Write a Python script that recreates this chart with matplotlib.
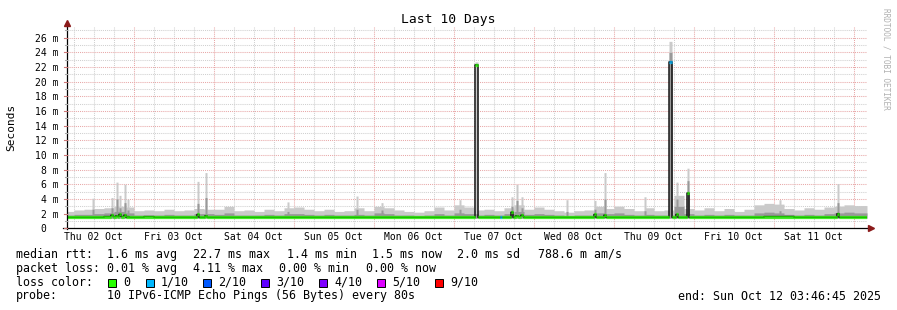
import numpy as np
import matplotlib
matplotlib.use("Agg")
import matplotlib.pyplot as plt
from matplotlib.patches import Rectangle

W, H = 897, 310
MONO = "DejaVu Sans Mono"

# base smoke, 3-hour bins starting 02 Oct 03:00 (hours since 02 Oct 00:00)
bin_start = 3.0
bin_hours = 3.0
smoke_top = [2.3, 2.5, 2.6, 2.7, 2.8, 3.0, 2.9, 2.4, 2.5, 2.4,
             2.6, 2.4, 2.5, 2.7, 2.6, 2.6, 3.0, 2.4, 2.5, 2.3,
             2.6, 2.4, 2.8, 2.9, 2.6, 2.4, 2.6, 2.3, 2.4, 2.8,
             2.4, 3.0, 2.8, 2.5, 2.3, 2.2, 2.4, 2.9, 2.5, 3.2,
             2.9, 2.5, 2.6, 2.4, 2.8, 3.2, 2.6, 2.9, 2.6, 2.4,
             2.2, 2.4, 2.5, 3.0, 2.7, 3.0, 2.7, 2.4, 2.8, 2.4,
             2.5, 4.5, 2.7, 2.5, 2.8, 2.4, 2.7, 2.3, 2.6, 3.2,
             3.4, 3.3, 2.7, 2.5, 2.8, 2.6, 2.9, 3.0, 3.2, 3.1, 3.1]
smoke_dark = [1.8, 1.9, 1.9, 2.0, 2.1, 2.3, 2.1, 1.8, 1.8, 1.8,
              1.9, 1.8, 1.8, 2.0, 2.0, 1.9, 2.1, 1.8, 1.8, 1.8,
              1.9, 1.8, 2.0, 2.0, 1.9, 1.8, 1.9, 1.8, 1.8, 1.9,
              1.8, 2.1, 2.0, 1.8, 1.8, 1.7, 1.8, 2.0, 1.8, 2.1,
              2.0, 1.8, 1.9, 1.8, 2.0, 2.3, 1.9, 2.0, 1.9, 1.8,
              1.7, 1.8, 1.8, 2.1, 2.0, 2.1, 1.9, 1.8, 1.9, 1.8,
              1.8, 3.0, 2.0, 1.8, 1.9, 1.8, 1.9, 1.8, 1.8, 2.1,
              2.2, 2.1, 1.9, 1.8, 1.9, 1.8, 2.0, 2.1, 2.2, 2.1, 2.1]
median_rtt = [1.5, 1.5, 1.5, 1.5, 1.6, 1.6, 1.5, 1.5, 1.6, 1.5,
              1.5, 1.5, 1.5, 1.5, 1.5, 1.5, 1.5, 1.5, 1.5, 1.5,
              1.5, 1.5, 1.5, 1.5, 1.5, 1.5, 1.5, 1.5, 1.5, 1.5,
              1.5, 1.5, 1.5, 1.5, 1.5, 1.5, 1.5, 1.5, 1.5, 1.5,
              1.5, 1.5, 1.5, 1.5, 1.5, 1.6, 1.5, 1.5, 1.5, 1.5,
              1.5, 1.5, 1.5, 1.5, 1.5, 1.5, 1.5, 1.5, 1.5, 1.5,
              1.5, 1.5, 1.5, 1.5, 1.5, 1.5, 1.5, 1.5, 1.5, 1.5,
              1.6, 1.6, 1.6, 1.5, 1.5, 1.5, 1.5, 1.5, 1.5, 1.5, 1.5]
smoke_min = 1.38

# short spikes: hour, width (h), smoke top, dark smoke top, median, loss index
peak_hour = [11.6, 17.3, 18.8, 19.7, 21.2, 22.1, 43.1, 45.5, 70.1, 90.8,
             98.3, 121.7, 126.8, 134.0, 137.3, 138.8, 140.3, 153.8, 162.2, 165.2,
             177.2, 185.0, 186.8, 190.1, 217.7, 235.1]
peak_width = [0.6, 0.6, 0.6, 0.6, 0.6, 0.6, 0.6, 0.6, 0.6, 0.6,
              0.6, 0.6, 0.9, 0.6, 0.6, 0.6, 0.6, 0.6, 0.6, 0.6,
              0.6, 0.9, 0.6, 0.6, 0.6, 0.6]
peak_top = [4.1, 4.2, 6.3, 4.5, 6.0, 4.0, 6.4, 7.6, 3.6, 4.4,
            3.5, 3.9, 22.7, 2.4, 4.3, 6.0, 4.3, 3.9, 3.8, 7.6,
            4.3, 25.5, 6.3, 8.2, 3.9, 6.1]
peak_dark = [2.6, 2.8, 4.0, 2.8, 3.5, 2.5, 3.4, 4.2, 2.3, 2.6,
             2.5, 2.6, 2.0, 1.8, 3.0, 3.8, 2.8, 2.3, 2.6, 4.0,
             2.4, 24.0, 4.0, 6.5, 2.4, 3.5]
peak_median = [1.5, 1.8, 1.7, 1.9, 1.8, 1.6, 1.9, 1.7, 1.5, 1.5,
               1.5, 1.5, 22.3, 1.5, 2.2, 1.7, 1.8, 1.5, 1.9, 1.8,
               1.5, 22.7, 1.9, 4.8, 1.6, 2.0]
peak_loss = [0, 0, 0, 0, 0, 0, 0, 0, 0, 0,
             0, 0, 0, 1, 0, 0, 0, 0, 0, 0,
             0, 1, 0, 0, 0, 0]

loss_labels = ["0", "1/10", "2/10", "3/10", "4/10", "5/10", "9/10"]
loss_colors = ["#26ff00", "#00b8ff", "#0059ff", "#5e00ff", "#7e00ff", "#dd00ff", "#ff0000"]

day_labels = ["Thu 02 Oct", "Fri 03 Oct", "Sat 04 Oct", "Sun 05 Oct", "Mon 06 Oct",
              "Tue 07 Oct", "Wed 08 Oct", "Thu 09 Oct", "Fri 10 Oct", "Sat 11 Oct"]

t0, t1 = 4.0, 244.0
step = 0.3

# rrd-like sample grid
t = t0 + step * np.arange(800)
idx = ((t - bin_start) // bin_hours).astype(int)
top = np.array(smoke_top)[idx]
dark = np.array(smoke_dark)[idx]
med = np.array(median_rtt)[idx]
loss = np.zeros(len(t), dtype=int)
for h, w, pt, pd_, pm, pl in zip(peak_hour, peak_width, peak_top, peak_dark,
                                 peak_median, peak_loss):
    m = np.abs(t - h) < w / 2 + 0.01
    top[m] = pt
    dark[m] = pd_
    med[m] = pm
    loss[m] = pl

fig = plt.figure(figsize=(W / 100, H / 100), dpi=100)
fig.patch.set_facecolor("white")
ax = fig.add_axes([67 / W, 1 - 228.3 / H, 800 / W, (228.3 - 26.7) / H])
ax.set_xlim(t0, t1)
ax.set_ylim(0, 27.5)
for s in ax.spines.values():
    s.set_visible(False)

# grid
for h in np.arange(6, 246, 6):
    major = h % 24 == 0
    ax.axvline(h, color="#e8a8a8" if major else "#d0d0d0", lw=0.75,
               ls=(0, (1, 1)), zorder=0)
for v in range(1, 28):
    major = v % 2 == 0
    ax.axhline(v, color="#e8a8a8" if major else "#d0d0d0", lw=0.75,
               ls=(0, (1, 1)), zorder=0)

te = np.append(t, t[-1] + step)
ax.fill_between(te, smoke_min, np.append(top, top[-1]), step="post",
                color="#cacaca", lw=0, zorder=1)
ax.fill_between(te, smoke_min, np.append(dark, dark[-1]), step="post",
                color="#999999", lw=0, zorder=2)
ax.step(te, np.append(med, med[-1]), where="post", color="black", lw=1.0, zorder=3)
ax.hlines(med, t, t + step, colors=[loss_colors[i] for i in loss], lw=2.3, zorder=4)

ax.set_yticks(range(0, 27, 2))
ax.set_yticklabels(["0  "] + [f"{v} m" for v in range(2, 27, 2)])
ax.set_xticks([12 + 24 * i for i in range(10)])
ax.set_xticklabels(day_labels)
ax.tick_params(axis="both", which="both", length=0, labelsize=7)
ax.tick_params(axis="y", pad=5.8)
ax.tick_params(axis="x", pad=3)
for lab in ax.get_xticklabels() + ax.get_yticklabels():
    lab.set_family(MONO)


def fx(x):
    return x / W


def fy(y):
    return 1 - y / H


# axes with arrows
fig.add_artist(plt.Line2D([fx(67), fx(67)], [fy(229), fy(24)], color="black", lw=0.9))
fig.add_artist(plt.Line2D([fx(63), fx(869)], [fy(228.3), fy(228.3)], color="black", lw=0.9))
fig.add_artist(plt.Line2D([fx(67)], [fy(23)], marker="^", ms=4, color="#8b1a1a", lw=0))
fig.add_artist(plt.Line2D([fx(871)], [fy(228.3)], marker=">", ms=4, color="#8b1a1a", lw=0))
for v in range(0, 28):
    y = 228.3 - v * 7.33
    fig.add_artist(plt.Line2D([fx(64 if v % 2 == 0 else 65), fx(67)], [fy(y), fy(y)],
                              color="#cc7777" if v % 2 == 0 else "#aaaaaa", lw=0.8))

fig.text(fx(448), fy(19), "Last 10 Days", family=MONO, fontsize=9.4,
         ha="center", va="center")
fig.text(fx(11), fy(127), "Seconds", family=MONO, fontsize=8, rotation=90,
         ha="center", va="center")
fig.text(fx(886), fy(59), "RRDTOOL / TOBI OETIKER", family=MONO, fontsize=5.6,
         rotation=270, ha="center", va="center", color="#b0b0b0")

fs = 8.4
rows = [
    (254.3, [(16, "median rtt:"), (107, "1.6 ms avg"), (193, "22.7 ms max"),
             (287, "1.4 ms min"), (372, "1.5 ms now"), (457, "2.0 ms sd"),
             (538, "788.6 m am/s")]),
    (268.3, [(16, "packet loss:"), (107, "0.01 % avg"), (193, "4.11 % max"),
             (279, "0.00 % min"), (366, "0.00 % now")]),
    (282.3, [(16, "loss color:")]),
    (296, [(16, "probe:"), (107, "10 IPv6-ICMP Echo Pings (56 Bytes) every 80s")]),
]
for y, items in rows:
    for x, s in items:
        fig.text(fx(x), fy(y), s, family=MONO, fontsize=fs, ha="left", va="center")

box_x = [108, 146, 203, 261, 319, 377, 435]
for bx, lab, col in zip(box_x, loss_labels, loss_colors):
    fig.add_artist(Rectangle((fx(bx), fy(287)), 8 / W, 8 / H, transform=fig.transFigure,
                             facecolor=col, edgecolor="black", lw=0.7))
    fig.text(fx(bx + 15), fy(282.3), lab, family=MONO, fontsize=fs, ha="left", va="center")

fig.text(fx(881), fy(296), "end: Sun Oct 12 03:46:45 2025", family=MONO, fontsize=fs,
         ha="right", va="center")

fig.savefig("out.png", dpi=100)
